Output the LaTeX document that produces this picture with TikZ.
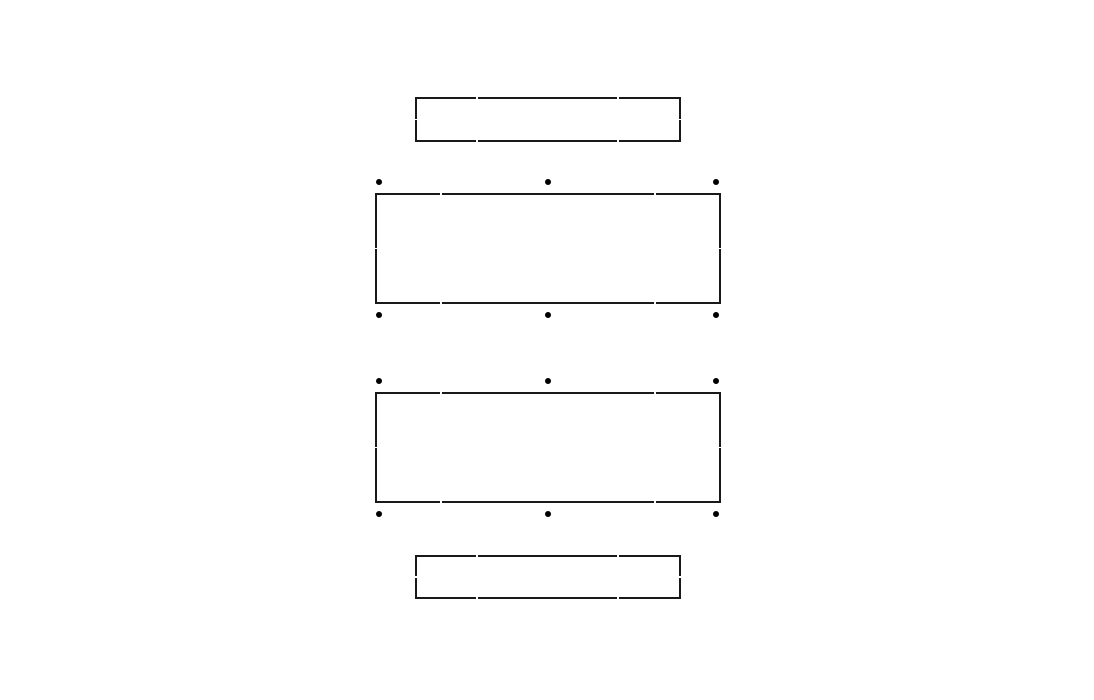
\documentclass[tikz,border=0pt]{standalone}
\begin{document}
\begin{tikzpicture}[x=1pt,y=-1pt,
  box/.style={draw=black!90,line width=1.25pt,inner sep=0pt,outer sep=0pt},
  pin/.style={circle,fill=black,draw=black,line width=0.5pt,inner sep=0pt,minimum size=5.5pt},
  gapv/.style={draw=white,line width=1.2pt},
]
\useasboundingbox (0,0) rectangle (1094,700);
\node[box,minimum width=264pt,minimum height=43pt] (t) at (548,119.5) {};
\node[box,minimum width=344pt,minimum height=109pt] (a) at (548,248.5) {};
\node[box,minimum width=344pt,minimum height=109pt] (b) at (548,447.5) {};
\node[box,minimum width=264pt,minimum height=42pt] (d) at (548,577) {};
% small gaps
\foreach \n/\xa/\xb in {t/477/618,d/477/618,a/441/655,b/441/655}{
  \draw[gapv] (\xa,0 |- \n.north) ++(0,-1.5) -- ++(0,3);
  \draw[gapv] (\xb,0 |- \n.north) ++(0,-1.5) -- ++(0,3);
  \draw[gapv] (\xa,0 |- \n.south) ++(0,-1.5) -- ++(0,3);
  \draw[gapv] (\xb,0 |- \n.south) ++(0,-1.5) -- ++(0,3);
  \draw[white,line width=1.2pt] (\n.west) ++(-1.5,0) -- ++(3,0);
  \draw[white,line width=1.2pt] (\n.east) ++(-1.5,0) -- ++(3,0);
}
\foreach \y/\nm in {182/p1,315/p2,381/p3,514/p4}{
  \node[pin] (\nm l) at (379,\y) {};
  \node[pin] (\nm m) at (548,\y) {};
  \node[pin] (\nm r) at (716,\y) {};
}
\end{tikzpicture}
\end{document}
